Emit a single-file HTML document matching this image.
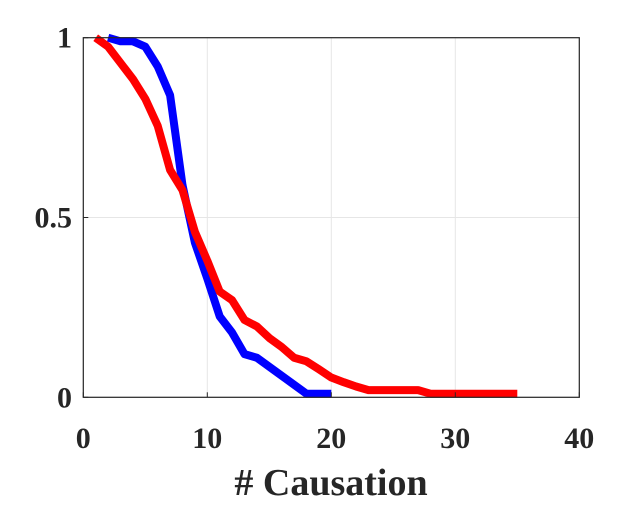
<!DOCTYPE html>
<html><head><meta charset="utf-8"><style>
body{margin:0;background:#fff;}
svg text{font-family:"Liberation Serif",serif;font-weight:bold;fill:#262626;}
</style></head><body>
<svg id="chart" width="642" height="508" xmlns="http://www.w3.org/2000/svg">
<g id="grid"></g>
<g id="series"></g>
<rect x="83.3" y="37.7" width="496" height="359.6" fill="none" stroke="#262626" stroke-width="1.2"/>
<g id="ticks"></g>
<text x="331" y="495" font-size="38" text-anchor="middle"># Causation</text>
</svg>
<script>
const xTicks=[0,10,20,30,40];
const yTicks=[0,0.5,1];
const yTickLabels=["0","0.5","1"];
const blueX=[2,3,4,5,6,7,8,9,10,11,12,13,14,15,16,17,18,19,20];
const blueY=[1.0,0.99,0.99,0.975,0.92,0.84,0.59,0.43,0.33,0.225,0.18,0.12,0.11,0.085,0.06,0.035,0.01,0.01,0.01];
const redX=[1,2,3,4,5,6,7,8,9,10,11,12,13,14,15,16,17,18,19,20,21,22,23,24,25,26,27,28,29,30,31,32,33,34,35];
const redY=[1.0,0.975,0.93,0.885,0.83,0.755,0.632,0.576,0.46,0.38,0.294,0.27,0.215,0.197,0.165,0.14,0.11,0.1,0.078,0.055,0.042,0.03,0.02,0.02,0.02,0.02,0.02,0.01,0.01,0.01,0.01,0.01,0.01,0.01,0.01];
const X0=83.3,X1=579.3,Y0=397.3,Y1=37.7;
const sx=v=>X0+(v-0)/(40-0)*(X1-X0);
const sy=v=>Y0-(v-0)/(1-0)*(Y0-Y1);
const NS="http://www.w3.org/2000/svg";
const grid=document.getElementById('grid'),ticks=document.getElementById('ticks'),series=document.getElementById('series');
function mk(t,a){const e=document.createElementNS(NS,t);for(const k in a)e.setAttribute(k,a[k]);return e;}
xTicks.forEach(v=>{
  const g=mk('line',{x1:sx(v),x2:sx(v),y1:Y1,y2:Y0,stroke:'#e6e6e6','stroke-width':1});
  
  
  grid.appendChild(g);
  const t=mk('line',{x1:sx(v),x2:sx(v),y1:Y0,y2:Y0-5,stroke:'#262626'});
  
  
  ticks.appendChild(t);
  const l=mk('text',{x:sx(v),y:448,'font-size':30,'text-anchor':'middle'});
  l.textContent=String(v);
  
  
  ticks.appendChild(l);
});
yTicks.forEach((v,i)=>{
  const g=mk('line',{x1:X0,x2:X1,y1:sy(v),y2:sy(v),stroke:'#e6e6e6','stroke-width':1});
  
  
  grid.appendChild(g);
  const t=mk('line',{x1:X0,x2:X0+5,y1:sy(v),y2:sy(v),stroke:'#262626'});
  
  
  ticks.appendChild(t);
  const l=mk('text',{x:72,y:sy(v)+10,'font-size':30,'text-anchor':'end'});
  l.textContent=yTickLabels[i];
  
  
  ticks.appendChild(l);
});
function line(xs,ys,color,name){
  const p=mk('polyline',{points:xs.map((x,i)=>sx(x)+','+sy(ys[i])).join(' '),fill:'none',stroke:color,'stroke-width':8,'stroke-linejoin':'round'});
  
  
  series.appendChild(p);
}
line(blueX,blueY,'#0000ff','blue-series-line');
line(redX,redY,'#ff0000','red-series-line');
</script>
</body></html>
